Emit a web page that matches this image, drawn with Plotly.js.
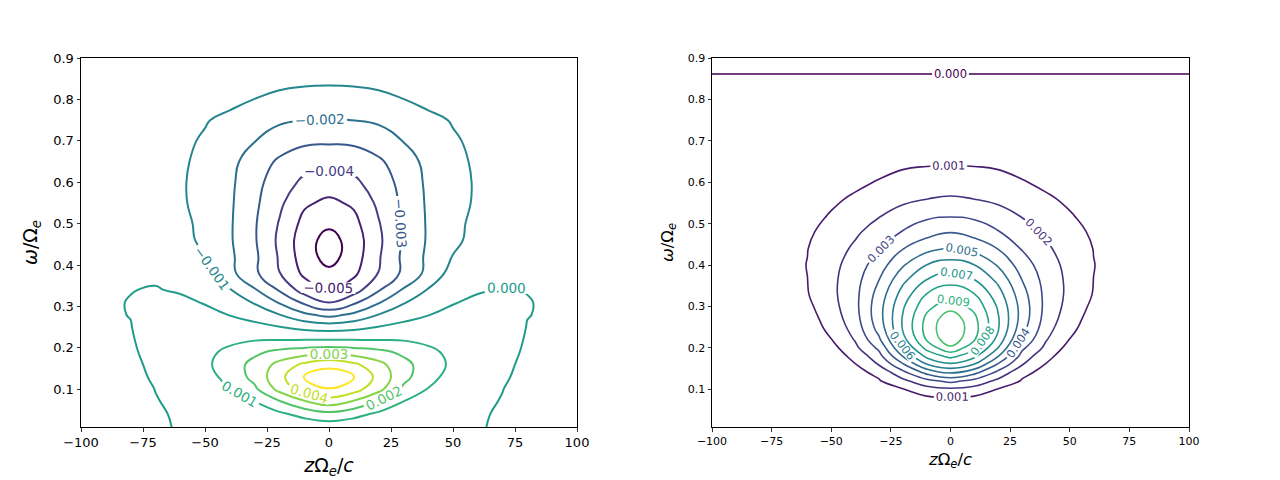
<!DOCTYPE html>
<html>
<head>
<meta charset="utf-8">
<script src="https://cdn.plot.ly/plotly-3.0.1.min.js"></script>
<style>html,body{margin:0;padding:0;background:#fff;}#chart{width:1280px;height:480px;}</style>
</head>
<body>
<div id="chart"></div>
<script>
// Grid positions (z Omega_e / c)
const xGrid = [-100,-90,-80,-70,-60,-50,-40,-30,-20,-10,0,10,20,30,40,50,60,70,80,90,100];

// Left panel: omega/Omega_e rows and field values
const yLeft = [0.005,0.04,0.07,0.1,0.13,0.16,0.19,0.22,0.25,0.28,0.31,0.34,0.38,0.42,0.46,0.5,0.55,0.6,0.65,0.7,0.75,0.8,0.85,0.9];
const zLeft = [
[-0.00035,-0.0003,-0.0002,-0.00004,0.00002,0.00006,0.0001,0.00015,0.0002,0.00023,0.00025,0.00023,0.0002,0.00015,0.0001,0.00006,0.00002,-0.00004,-0.0002,-0.0003,-0.00035],
[-0.00036,-0.00032,-0.00025,-0.00005,0.00005,0.00015,0.00028,0.0005,0.0008,0.0013,0.0017,0.0013,0.0008,0.0005,0.00028,0.00015,0.00005,-0.00005,-0.00025,-0.00032,-0.00036],
[-0.00036,-0.00032,-0.00025,-0.00003,0.00012,0.00025,0.0005,0.00098,0.0019,0.0029,0.0035,0.0029,0.0019,0.00098,0.0005,0.00025,0.00012,-0.00003,-0.00025,-0.00032,-0.00036],
[-0.00036,-0.00032,-0.00025,0.00001,0.00025,0.00045,0.00095,0.0018,0.0033,0.0044,0.00495,0.0044,0.0033,0.0018,0.00095,0.00045,0.00025,0.00001,-0.00025,-0.00032,-0.00036],
[-0.00035,-0.0003,-0.00022,0.0001,0.00035,0.0006,0.00135,0.0023,0.0037,0.00502,0.0056,0.00502,0.0037,0.0023,0.00135,0.0006,0.00035,0.0001,-0.00022,-0.0003,-0.00035],
[-0.00033,-0.00028,-0.0002,0.0002,0.00055,0.0008,0.0015,0.0023,0.0033,0.0042,0.0047,0.0042,0.0033,0.0023,0.0015,0.0008,0.00055,0.0002,-0.0002,-0.00028,-0.00033],
[-0.0003,-0.00025,-0.0002,0.00045,0.0006,0.00078,0.0012,0.0018,0.00225,0.0025,0.0027,0.0025,0.00225,0.0018,0.0012,0.00078,0.0006,0.00045,-0.0002,-0.00025,-0.0003],
[-0.00025,-0.00015,-0.00009,0.00045,0.00058,0.00065,0.0008,0.00093,0.00096,0.00097,0.00097,0.00097,0.00096,0.00093,0.0008,0.00065,0.00058,0.00045,-0.00009,-0.00015,-0.00025],
[-0.00025,-0.00015,-0.00003,0.0005,0.0006,0.0006,0.0005,0.0003,0.00005,-0.00028,-0.00044,-0.00028,0.00005,0.0003,0.0005,0.0006,0.0006,0.0005,-0.00003,-0.00015,-0.00025],
[-0.0002,-0.0001,0.00002,0.00035,0.0004,0.00025,-0.00003,-0.0004,-0.00098,-0.0018,-0.0023,-0.0018,-0.00098,-0.0004,-0.00003,0.00025,0.0004,0.00035,0.00002,-0.0001,-0.0002],
[-0.0002,-0.0001,0.00003,0.00022,0.0002,-0.00006,-0.0005,-0.00108,-0.0021,-0.0032,-0.00402,-0.0032,-0.0021,-0.00108,-0.0005,-0.00006,0.0002,0.00022,0.00003,-0.0001,-0.0002],
[-0.0002,-0.00012,-0.00002,0.00005,-0.0001,-0.0003,-0.00093,-0.0019,-0.0031,-0.00445,-0.00515,-0.00445,-0.0031,-0.0019,-0.00093,-0.0003,-0.0001,0.00005,-0.00002,-0.00012,-0.0002],
[-0.00032,-0.00028,-0.0002,-0.00015,-0.00035,-0.0006,-0.00172,-0.0028,-0.00398,-0.0052,-0.00575,-0.0052,-0.00398,-0.0028,-0.00172,-0.0006,-0.00035,-0.00015,-0.0002,-0.00028,-0.00032],
[-0.0004,-0.00042,-0.00045,-0.0005,-0.0006,-0.00097,-0.0018,-0.0028,-0.0041,-0.0055,-0.0064,-0.0055,-0.0041,-0.0028,-0.0018,-0.00097,-0.0006,-0.0005,-0.00045,-0.00042,-0.0004],
[-0.00044,-0.0005,-0.00057,-0.00068,-0.00082,-0.00112,-0.00188,-0.0029,-0.0042,-0.00555,-0.0064,-0.00555,-0.0042,-0.0029,-0.00188,-0.00112,-0.00082,-0.00068,-0.00057,-0.0005,-0.00044],
[-0.00044,-0.0005,-0.00058,-0.0007,-0.00085,-0.00115,-0.00188,-0.0029,-0.00407,-0.0053,-0.0058,-0.0053,-0.00407,-0.0029,-0.00188,-0.00115,-0.00085,-0.0007,-0.00058,-0.0005,-0.00044],
[-0.00043,-0.00049,-0.00058,-0.00072,-0.00088,-0.0013,-0.00185,-0.0028,-0.0038,-0.00485,-0.0052,-0.00485,-0.0038,-0.0028,-0.00185,-0.0013,-0.00088,-0.00072,-0.00058,-0.00049,-0.00043],
[-0.00042,-0.00048,-0.00057,-0.0007,-0.0009,-0.0013,-0.0018,-0.0027,-0.0035,-0.0042,-0.00448,-0.0042,-0.0035,-0.0027,-0.0018,-0.0013,-0.0009,-0.0007,-0.00057,-0.00048,-0.00042],
[-0.0004,-0.00046,-0.00055,-0.0007,-0.00088,-0.0012,-0.0017,-0.0025,-0.00315,-0.0036,-0.0037,-0.0036,-0.00315,-0.0025,-0.0017,-0.0012,-0.00088,-0.0007,-0.00055,-0.00046,-0.0004],
[-0.00038,-0.00042,-0.0005,-0.00065,-0.00085,-0.00108,-0.0015,-0.00197,-0.0025,-0.0028,-0.00285,-0.0028,-0.0025,-0.00197,-0.0015,-0.00108,-0.00085,-0.00065,-0.0005,-0.00042,-0.00038],
[-0.00035,-0.0004,-0.00045,-0.00055,-0.0007,-0.00095,-0.00118,-0.00165,-0.00185,-0.00199,-0.00204,-0.00199,-0.00185,-0.00165,-0.00118,-0.00095,-0.0007,-0.00055,-0.00045,-0.0004,-0.00035],
[-0.0003,-0.0003,-0.00035,-0.0004,-0.00048,-0.0006,-0.0008,-0.00101,-0.00124,-0.00136,-0.0014,-0.00136,-0.00124,-0.00101,-0.0008,-0.0006,-0.00048,-0.0004,-0.00035,-0.0003,-0.0003],
[-0.00025,-0.00025,-0.00025,-0.0003,-0.00035,-0.0004,-0.0005,-0.0006,-0.0007,-0.00078,-0.0008,-0.00078,-0.0007,-0.0006,-0.0005,-0.0004,-0.00035,-0.0003,-0.00025,-0.00025,-0.00025],
[-0.00012,-0.00012,-0.00012,-0.00012,-0.00015,-0.00017,-0.0002,-0.00025,-0.00028,-0.0003,-0.0003,-0.0003,-0.00028,-0.00025,-0.0002,-0.00017,-0.00015,-0.00012,-0.00012,-0.00012,-0.00012]
];

// Right panel
const yRight = [0.005,0.05,0.08,0.1,0.12,0.14,0.16,0.18,0.2,0.22,0.245,0.27,0.3,0.33,0.36,0.4,0.44,0.48,0.52,0.56,0.6,0.65,0.7,0.75,0.8,0.85,0.9];
const zRight = [
[0.00005,0.00005,0.00005,0.00006,0.00007,0.00008,0.00009,0.0001,0.00011,0.00012,0.00012,0.00012,0.00011,0.0001,0.00009,0.00008,0.00007,0.00006,0.00005,0.00005,0.00005],
[0.00009,0.0001,0.00012,0.00015,0.00019,0.00024,0.0003,0.00036,0.00043,0.00048,0.0005,0.00048,0.00043,0.00036,0.0003,0.00024,0.00019,0.00015,0.00012,0.0001,0.00009],
[0.00013,0.00016,0.0002,0.00026,0.00035,0.00045,0.00058,0.0007,0.0008,0.00087,0.0009,0.00087,0.0008,0.0007,0.00058,0.00045,0.00035,0.00026,0.0002,0.00016,0.00013],
[0.00015,0.00018,0.00023,0.0003,0.00038,0.00048,0.0006,0.00075,0.00095,0.0016,0.0018,0.0016,0.00095,0.00075,0.0006,0.00048,0.00038,0.0003,0.00023,0.00018,0.00015],
[0.00017,0.0002,0.00026,0.00034,0.00043,0.00055,0.0007,0.00092,0.00173,0.00267,0.00327,0.00267,0.00173,0.00092,0.0007,0.00055,0.00043,0.00034,0.00026,0.0002,0.00017],
[0.00019,0.00023,0.00029,0.00037,0.00048,0.00062,0.0007,0.00124,0.00268,0.00426,0.0051,0.00426,0.00268,0.00124,0.0007,0.00062,0.00048,0.00037,0.00029,0.00023,0.00019],
[0.0002,0.00025,0.00031,0.0004,0.00053,0.00065,0.00096,0.00206,0.00386,0.00596,0.0068,0.00596,0.00386,0.00206,0.00096,0.00065,0.00053,0.0004,0.00031,0.00025,0.0002],
[0.0002,0.00023,0.00028,0.00035,0.00045,0.0006,0.00121,0.00266,0.00503,0.00726,0.0083,0.00726,0.00503,0.00266,0.00121,0.0006,0.00045,0.00035,0.00028,0.00023,0.0002],
[0.00021,0.00025,0.0003,0.00038,0.00048,0.00066,0.00176,0.00321,0.00597,0.00831,0.0098,0.00831,0.00597,0.00321,0.00176,0.00066,0.00048,0.00038,0.0003,0.00025,0.00021],
[0.00024,0.00028,0.00034,0.00042,0.00055,0.00098,0.00207,0.00382,0.00664,0.00908,0.0107,0.00908,0.00664,0.00382,0.00207,0.00098,0.00055,0.00042,0.00034,0.00028,0.00024],
[0.00025,0.0003,0.00036,0.00045,0.0006,0.00117,0.00239,0.00433,0.00707,0.00938,0.0109,0.00938,0.00707,0.00433,0.00239,0.00117,0.0006,0.00045,0.00036,0.0003,0.00025],
[0.00026,0.0003,0.00037,0.00046,0.0006,0.00142,0.0026,0.00459,0.00709,0.00925,0.0107,0.00925,0.00709,0.00459,0.0026,0.00142,0.0006,0.00046,0.00037,0.0003,0.00026],
[0.00027,0.00032,0.0004,0.00052,0.00078,0.00163,0.00272,0.0046,0.00687,0.00872,0.0096,0.00872,0.00687,0.0046,0.00272,0.00163,0.00078,0.00052,0.0004,0.00032,0.00027],
[0.0003,0.00036,0.00046,0.00062,0.00095,0.00175,0.00272,0.00438,0.00642,0.00802,0.0087,0.00802,0.00642,0.00438,0.00272,0.00175,0.00095,0.00062,0.00046,0.00036,0.0003],
[0.00031,0.00037,0.00048,0.00065,0.00099,0.00176,0.00265,0.00404,0.00583,0.00715,0.00774,0.00715,0.00583,0.00404,0.00265,0.00176,0.00099,0.00065,0.00048,0.00037,0.00031],
[0.00032,0.00039,0.0005,0.00068,0.00102,0.00169,0.00246,0.00351,0.0049,0.00602,0.00643,0.00602,0.0049,0.00351,0.00246,0.00169,0.00102,0.00068,0.0005,0.00039,0.00032],
[0.00032,0.00039,0.0005,0.00067,0.00098,0.00155,0.00216,0.00292,0.00396,0.00468,0.0051,0.00468,0.00396,0.00292,0.00216,0.00155,0.00098,0.00067,0.0005,0.00039,0.00032],
[0.00031,0.00038,0.00049,0.00066,0.00085,0.00134,0.00184,0.00243,0.00305,0.0036,0.00395,0.0036,0.00305,0.00243,0.00184,0.00134,0.00085,0.00066,0.00049,0.00038,0.00031],
[0.0003,0.00037,0.00047,0.00062,0.00082,0.00104,0.00155,0.00193,0.00245,0.00278,0.0029,0.00278,0.00245,0.00193,0.00155,0.00104,0.00082,0.00062,0.00047,0.00037,0.0003],
[0.00029,0.00035,0.00044,0.00057,0.00073,0.0009,0.00108,0.00148,0.00175,0.00199,0.0021,0.00199,0.00175,0.00148,0.00108,0.0009,0.00073,0.00057,0.00044,0.00035,0.00029],
[0.00027,0.00033,0.0004,0.0005,0.00062,0.00075,0.00088,0.00104,0.00128,0.00145,0.0015,0.00145,0.00128,0.00104,0.00088,0.00075,0.00062,0.0005,0.0004,0.00033,0.00027],
[0.00026,0.00031,0.00037,0.00045,0.00053,0.00061,0.00069,0.00076,0.00082,0.00086,0.00088,0.00086,0.00082,0.00076,0.00069,0.00061,0.00053,0.00045,0.00037,0.00031,0.00026],
[0.00023,0.00027,0.00031,0.00036,0.00041,0.00046,0.0005,0.00054,0.00057,0.00059,0.0006,0.00059,0.00057,0.00054,0.0005,0.00046,0.00041,0.00036,0.00031,0.00027,0.00023],
[0.00019,0.00021,0.00024,0.00027,0.0003,0.00032,0.00035,0.00037,0.00039,0.0004,0.0004,0.0004,0.00039,0.00037,0.00035,0.00032,0.0003,0.00027,0.00024,0.00021,0.00019],
[0.00012,0.00013,0.00014,0.00016,0.00017,0.00018,0.00019,0.0002,0.00021,0.00022,0.00022,0.00022,0.00021,0.0002,0.00019,0.00018,0.00017,0.00016,0.00014,0.00013,0.00012],
[0.00003,0.00003,0.00003,0.00003,0.00003,0.00003,0.00003,0.00003,0.00003,0.00003,0.00003,0.00003,0.00003,0.00003,0.00003,0.00003,0.00003,0.00003,0.00003,0.00003,0.00003],
[-0.0001,-0.0001,-0.0001,-0.0001,-0.0001,-0.0001,-0.0001,-0.0001,-0.0001,-0.0001,-0.0001,-0.0001,-0.0001,-0.0001,-0.0001,-0.0001,-0.0001,-0.0001,-0.0001,-0.0001,-0.0001]
];

const xTicks = [-100,-75,-50,-25,0,25,50,75,100];
const yTicks = [0.1,0.2,0.3,0.4,0.5,0.6,0.7,0.8,0.9];
const xTitle = '<i>z</i>Ω<sub><i>e</i></sub>/<i>c</i>';
const yTitle = '<i>ω</i>/Ω<sub><i>e</i></sub>';

const FONT = 'DejaVu Sans, sans-serif';

const traces = [
  {
    type: 'contour', x: xGrid, y: yLeft, z: zLeft, xaxis: 'x', yaxis: 'y',
    autocontour: false,
    contours: {start: -0.006, end: 0.005, size: 0.001, coloring: 'lines', showlabels: true,
               labelformat: '.3f', labelfont: {family: FONT, size: 13.5}},
    colorscale: 'Viridis', showscale: false,
    line: {width: 2, smoothing: 1.3}, hoverinfo: 'skip'
  },
  {
    type: 'contour', x: xGrid, y: yRight, z: zRight, xaxis: 'x2', yaxis: 'y2',
    autocontour: false,
    contours: {start: 0, end: 0.014, size: 0.001, coloring: 'lines', showlabels: true,
               labelformat: '.3f', labelfont: {family: FONT, size: 11.5}},
    colorscale: 'Viridis', showscale: false,
    line: {width: 1.6, smoothing: 1.3}, hoverinfo: 'skip'
  }
];

function xAxis(domain, fs, tfs, anchor, standoff) {
  return {
    domain: domain, anchor: anchor, range: [-100, 100], tickvals: xTicks,
    ticks: 'outside', ticklen: 3.5, tickwidth: 0.8, tickcolor: '#000',
    showline: true, linecolor: '#000', linewidth: 1, mirror: true,
    showgrid: false, zeroline: false,
    tickfont: {family: FONT, size: fs, color: '#000'},
    title: {text: xTitle, font: {family: FONT, size: tfs, color: '#000'}, standoff: standoff}
  };
}
function yAxis(domain, fs, tfs, anchor, standoff) {
  return {
    domain: domain, anchor: anchor, range: [0.009, 0.9], tickvals: yTicks,
    ticks: 'outside', ticklen: 3.5, tickwidth: 0.8, tickcolor: '#000',
    showline: true, linecolor: '#000', linewidth: 1, mirror: true,
    showgrid: false, zeroline: false,
    tickfont: {family: FONT, size: fs, color: '#000'},
    title: {text: yTitle, font: {family: FONT, size: tfs, color: '#000'}, standoff: standoff}
  };
}

const layout = {
  width: 1280, height: 480,
  margin: {l: 0, r: 0, t: 0, b: 0},
  paper_bgcolor: '#fff', plot_bgcolor: '#fff',
  showlegend: false,
  xaxis: xAxis([81/1280, 577/1280], 13, 19, 'y', 9),
  yaxis: yAxis([53/480, 422/480], 13, 19, 'x', 10),
  xaxis2: xAxis([712/1280, 1189/1280], 11, 16.5, 'y2', 6),
  yaxis2: yAxis([53/480, 422/480], 11, 16.5, 'x2', 10)
};

Plotly.newPlot('chart', traces, layout, {staticPlot: true, displayModeBar: false});
</script>
</body>
</html>
